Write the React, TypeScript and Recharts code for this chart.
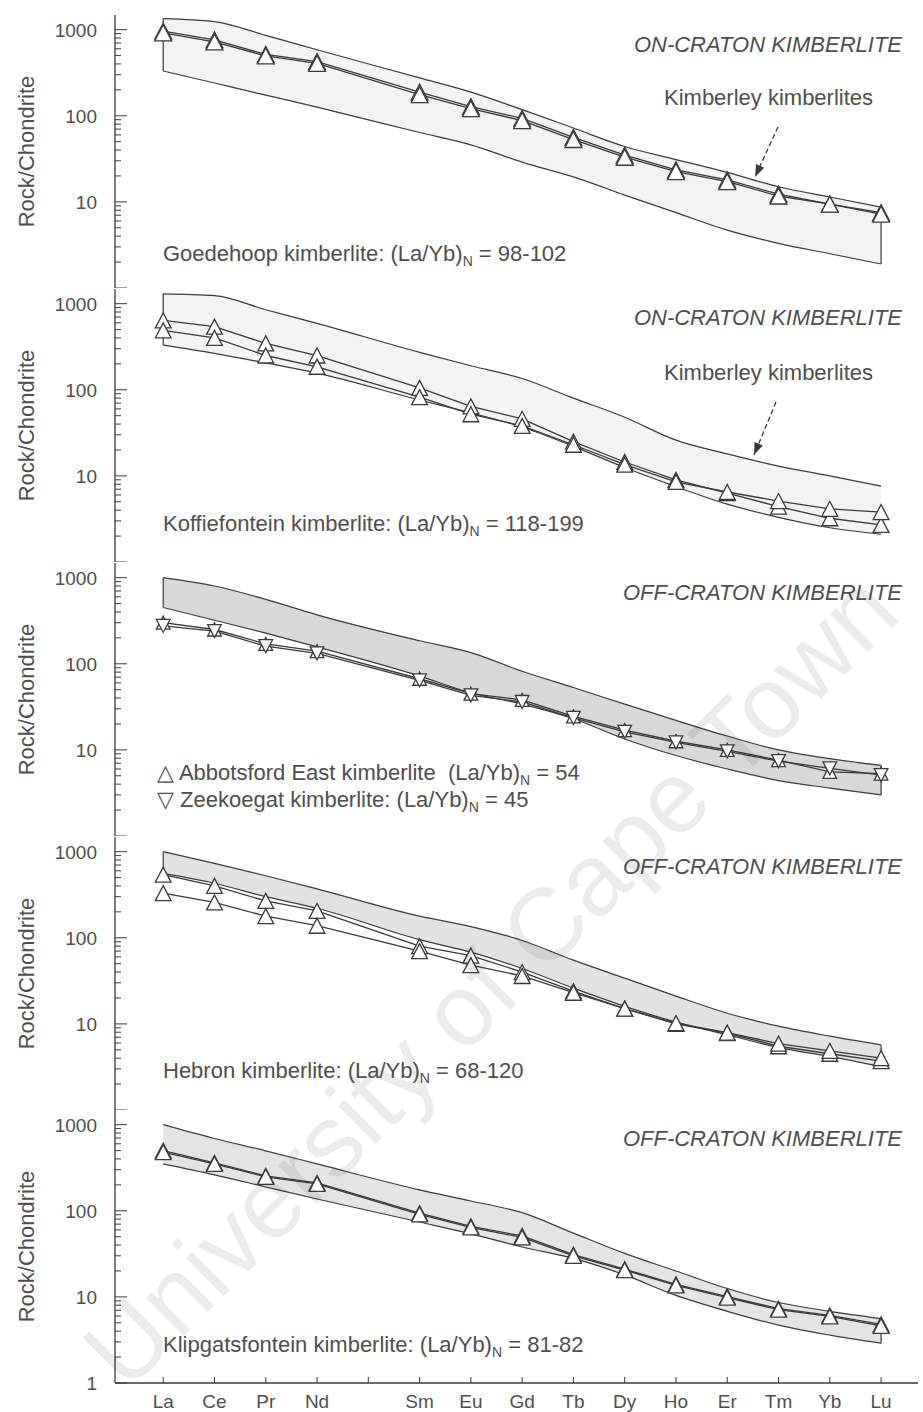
import React from "react";
import { ComposedChart, Area, Line, XAxis, YAxis, ReferenceLine, Label } from "recharts";

// chondrite-normalised REE, Pm slot left empty on the axis
const ELEMENTS = ["La", "Ce", "Pr", "Nd", "Sm", "Eu", "Gd", "Tb", "Dy", "Ho", "Er", "Tm", "Yb", "Lu"];
const ELEMENT_X = [0, 1, 2, 3, 5, 6, 7, 8, 9, 10, 11, 12, 13, 14];
const AXIS_SLOTS = [0, 1, 2, 3, 4, 5, 6, 7, 8, 9, 10, 11, 12, 13, 14];
const LOG_TICKS = [
  1, 2, 3, 4, 5, 6, 7, 8, 9,
  10, 20, 30, 40, 50, 60, 70, 80, 90,
  100, 200, 300, 400, 500, 600, 700, 800, 900,
  1000,
];

// Goedehoop (on-craton) + Kimberley field
const GOED_HI = [1345, 1240, 860, 585, 275, 188, 118, 72, 44, 31, 22, 15, 11.4, 8.7];
const GOED_LO = [331, 240, 174, 126, 64, 46, 29, 19.5, 12, 7.5, 4.7, 3.3, 2.5, 1.9];
const GOED_A = [960, 760, 515, 425, 188, 128, 93, 56, 35, 23.5, 18, 12.3, 9.4, 7.5];
const GOED_B = [920, 720, 495, 405, 176, 121, 88, 53, 33, 22.5, 17.2, 11.7, 9.4, 7.2];

// Koffiefontein (on-craton)
const KOF_HI = [1300, 1240, 850, 590, 272, 190, 135, 80, 48, 26, 18, 13, 10, 7.6];
const KOF_LO = [330, 265, 205, 156, 76, 54, 37, 22, 12.5, 7.5, 4.7, 3.3, 2.5, 2.1];
const KOF_A = [640, 540, 345, 250, 105, 64, 46, 25, 14.5, 9, 6.3, 4.4, 3.22, 2.7];
const KOF_B = [490, 400, 250, 185, 82, 52, 38, 23, 13.5, 8.5, 6.5, 5.1, 4.15, 3.8];

// Abbotsford East / Zeekoegat (off-craton)
const ABB_HI = [1000, 800, 560, 370, 185, 135, 82, 53, 34, 22, 14.5, 10, 7.9, 6.6];
const ABB_LO = [450, 320, 227, 157, 72, 46, 34, 23, 13.4, 8.6, 6.0, 4.4, 3.6, 3.0];
const ABBOTSFORD = [300, 250, 170, 140, 67, 45, 38, 24.5, 17, 12.6, 10, 7.6, 5.55, 5.3];
const ZEEKOEGAT = [275, 240, 160, 132, 64, 43, 36, 23.5, 16.2, 12.2, 9.6, 7.4, 6.1, 5.1];

// Hebron (off-craton)
const HEB_HI = [1000, 730, 525, 370, 178, 135, 93, 55, 34, 21, 13.3, 9.4, 7.2, 5.7];
const HEB_LO = [560, 430, 300, 220, 95, 68, 44, 26, 16, 10.5, 7.5, 5.3, 4.2, 3.2];
const HEB_A = [540, 400, 268, 205, 80, 62, 40, 24, 15, 10, 7.8, 5.5, 4.5, 3.7];
const HEB_B = [330, 258, 178, 138, 70, 48, 36, 23, 15, 10.2, 7.9, 5.9, 4.85, 4.0];

// Klipgatsfontein (off-craton)
const KLIP_HI = [1000, 690, 497, 350, 175, 130, 95, 55, 32, 20, 12.5, 8.6, 6.8, 5.6];
const KLIP_LO = [350, 261, 189, 137, 74, 54, 38, 28, 18, 10.4, 6.8, 4.7, 3.6, 2.9];
const KLIP_A = [500, 360, 254, 211, 94, 66, 51, 31, 21, 14, 10.1, 7.3, 6.1, 4.8];
const KLIP_B = [480, 350, 248, 205, 91, 64, 49, 30, 20.5, 13.6, 9.8, 7.1, 5.93, 4.6];

const W = 923;
const H = 1412;
const PLOT_H = 273;
const INK = "#3a3a3a";
const TEXT = "#4e4e4e";
const FONT = "'Liberation Sans', Arial, Helvetica, sans-serif";

type PanelDef = {
  top: number;
  hi: number[];
  lo: number[];
  a: number[];
  b: number[];
  fill: string;
  tri: number;
  bDown?: boolean;
  closeLa?: boolean;
  closeLu?: boolean;
  topBorder?: boolean;
  bottomLabels?: boolean;
};

const PANELS: PanelDef[] = [
  { top: 15, hi: GOED_HI, lo: GOED_LO, a: GOED_A, b: GOED_B, fill: "#f3f3f3", tri: 16, closeLa: true, closeLu: true, topBorder: true },
  { top: 289, hi: KOF_HI, lo: KOF_LO, a: KOF_A, b: KOF_B, fill: "#f3f3f3", tri: 15, closeLa: true },
  { top: 563, hi: ABB_HI, lo: ABB_LO, a: ABBOTSFORD, b: ZEEKOEGAT, fill: "#d8d8d8", tri: 13, bDown: true, closeLa: true, closeLu: true },
  { top: 837, hi: HEB_HI, lo: HEB_LO, a: HEB_A, b: HEB_B, fill: "#e2e2e2", tri: 15, closeLa: true, closeLu: true },
  { top: 1110, hi: KLIP_HI, lo: KLIP_LO, a: KLIP_A, b: KLIP_B, fill: "#e4e4e4", tri: 15, closeLu: true, bottomLabels: true },
];

function triangle(down: boolean, size: number) {
  return (props: any) => {
    const { cx, cy, index } = props;
    if (cx == null || cy == null) return <g key={`t${index}`} />;
    const w = size * 1.05;
    const h = size;
    const pts = down
      ? `${cx - w / 2},${cy - h / 2} ${cx + w / 2},${cy - h / 2} ${cx},${cy + h / 2}`
      : `${cx - w / 2},${cy + h / 2} ${cx + w / 2},${cy + h / 2} ${cx},${cy - h / 2}`;
    return <polygon key={`t${index}`} points={pts} fill="#fff" stroke={INK} strokeWidth={1.3} />;
  };
}

function LogTick(props: any) {
  const { x, y, payload, showOne } = props;
  const v = payload.value as number;
  const major = Math.abs(Math.log10(v) - Math.round(Math.log10(v))) < 1e-9;
  const label = major && (v > 1 || showOne) ? String(v) : "";
  return (
    <g>
      <line x1={x} x2={x + (major ? 12 : 6)} y1={y} y2={y} stroke={INK} strokeWidth={1} />
      {label && (
        <text x={x - 18} y={y} dy="0.36em" textAnchor="end" fontSize={19} fill={TEXT} fontFamily={FONT}>
          {label}
        </text>
      )}
    </g>
  );
}

function SlotTick(props: any) {
  const { x, y, payload, showLabel } = props;
  const i = ELEMENT_X.indexOf(payload.value);
  return (
    <g>
      <line x1={x} x2={x} y1={y} y2={y - 6} stroke={INK} strokeWidth={1} />
      {showLabel && i >= 0 && (
        <text x={x} y={y + 25} textAnchor="middle" fontSize={19} fill={TEXT} fontFamily={FONT}>
          {ELEMENTS[i]}
        </text>
      )}
    </g>
  );
}

function Panel({ p }: { p: PanelDef }) {
  const rows = ELEMENT_X.map((x, i) => ({ x, band: [p.lo[i], p.hi[i]], a: p.a[i], b: p.b[i] }));
  const xh = p.bottomLabels ? 30 : 0;
  const last = ELEMENT_X.length - 1;
  return (
    <div style={{ position: "absolute", left: 0, top: p.top, width: W, height: PLOT_H + xh }}>
      <ComposedChart width={W} height={PLOT_H + xh} data={rows} margin={{ top: 0, right: 5, bottom: 0, left: 0 }}>
        <XAxis
          type="number"
          dataKey="x"
          domain={[-0.94, 14.72]}
          allowDataOverflow
          ticks={AXIS_SLOTS}
          interval={0}
          height={xh}
          tickSize={0}
          tickMargin={0}
          tickLine={false}
          axisLine={{ stroke: INK, strokeWidth: 1.3 }}
          tick={(props: any) => <SlotTick {...props} showLabel={p.bottomLabels} />}
        />
        {p.topBorder && (
          <XAxis
            xAxisId="top"
            orientation="top"
            type="number"
            dataKey="x"
            domain={[-0.94, 14.72]}
            allowDataOverflow
            height={0}
            tick={false}
            tickLine={false}
            axisLine={{ stroke: INK, strokeWidth: 1.3 }}
          />
        )}
        <YAxis
          type="number"
          scale="log"
          domain={[1, 1480]}
          allowDataOverflow
          ticks={LOG_TICKS}
          interval={0}
          width={115}
          tickSize={0}
          tickMargin={0}
          tickLine={false}
          axisLine={{ stroke: INK, strokeWidth: 1.3 }}
          tick={(props: any) => <LogTick {...props} showOne={p.bottomLabels} />}
        >
          <Label
            value="Rock/Chondrite"
            angle={-90}
            position="insideLeft"
            offset={26}
            style={{ textAnchor: "middle", fontSize: 22, fill: TEXT, fontFamily: FONT }}
          />
        </YAxis>
        <Area
          type="monotone"
          dataKey="band"
          stroke={INK}
          strokeWidth={1.2}
          fill={p.fill}
          fillOpacity={1}
          dot={false}
          activeDot={false}
          isAnimationActive={false}
        />
        {p.closeLa && (
          <ReferenceLine
            segment={[{ x: ELEMENT_X[0], y: p.lo[0] }, { x: ELEMENT_X[0], y: p.hi[0] }]}
            stroke={INK}
            strokeWidth={1.2}
          />
        )}
        {p.closeLu && (
          <ReferenceLine
            segment={[{ x: ELEMENT_X[last], y: p.lo[last] }, { x: ELEMENT_X[last], y: p.hi[last] }]}
            stroke={INK}
            strokeWidth={1.2}
          />
        )}
        <Line
          type="linear"
          dataKey="a"
          stroke={INK}
          strokeWidth={1.3}
          dot={triangle(false, p.tri)}
          activeDot={false}
          isAnimationActive={false}
        />
        <Line
          type="linear"
          dataKey="b"
          stroke={INK}
          strokeWidth={1.3}
          dot={triangle(!!p.bDown, p.tri)}
          activeDot={false}
          isAnimationActive={false}
        />
      </ComposedChart>
    </div>
  );
}

function Ratio({ x, y, name, value }: { x: number; y: number; name: string; value: string }) {
  return (
    <text x={x} y={y} fontSize={22} fill={TEXT} fontFamily={FONT}>
      {name} (La/Yb)
      <tspan dy={5} fontSize={14}>N</tspan>
      <tspan dy={-5}> = {value}</tspan>
    </text>
  );
}

function Title({ y, text }: { y: number; text: string }) {
  return (
    <text x={902} y={y} textAnchor="end" fontSize={22} fontStyle="italic" fill={TEXT} fontFamily={FONT}>
      {text}
    </text>
  );
}

function Arrow({ x1, y1, x2, y2 }: { x1: number; y1: number; x2: number; y2: number }) {
  const ang = Math.atan2(y2 - y1, x2 - x1);
  const L = 13;
  const s = 0.35;
  const p1 = `${x2 - L * Math.cos(ang - s)},${y2 - L * Math.sin(ang - s)}`;
  const p2 = `${x2 - L * Math.cos(ang + s)},${y2 - L * Math.sin(ang + s)}`;
  return (
    <g>
      <line x1={x1} y1={y1} x2={x2} y2={y2} stroke={INK} strokeWidth={1.3} strokeDasharray="5 3" />
      <polygon points={`${x2},${y2} ${p1} ${p2}`} fill={INK} />
    </g>
  );
}

export default function App() {
  return (
    <div style={{ position: "absolute", left: 0, top: 0, width: W, height: H, background: "#fff", overflow: "hidden" }}>
      {PANELS.map((p, i) => (
        <Panel key={i} p={p} />
      ))}
      <svg width={W} height={H} style={{ position: "absolute", left: 0, top: 0, pointerEvents: "none" }}>
        <text
          x={515}
          y={1005}
          textAnchor="middle"
          fontSize={102}
          fill="#000"
          fillOpacity={0.08}
          fontFamily={FONT}
          transform="rotate(-45 515 1005)"
        >
          University of Cape Town
        </text>

        <Title y={52} text="ON-CRATON KIMBERLITE" />
        <text x={664} y={105} fontSize={22} fill={TEXT} fontFamily={FONT}>Kimberley kimberlites</text>
        <Arrow x1={778} y1={127} x2={755} y2={177} />
        <Ratio x={163} y={261} name="Goedehoop kimberlite:" value="98-102" />

        <Title y={325} text="ON-CRATON KIMBERLITE" />
        <text x={664} y={380} fontSize={22} fill={TEXT} fontFamily={FONT}>Kimberley kimberlites</text>
        <Arrow x1={776} y1={402} x2={754} y2={455} />
        <Ratio x={163} y={531} name="Koffiefontein kimberlite:" value="118-199" />

        <Title y={600} text="OFF-CRATON KIMBERLITE" />
        <Ratio x={157} y={780} name={"\u25B3 Abbotsford East kimberlite\u00A0"} value="54" />
        <Ratio x={157} y={807} name={"\u25BD Zeekoegat kimberlite:"} value="45" />

        <Title y={874} text="OFF-CRATON KIMBERLITE" />
        <Ratio x={163} y={1078} name="Hebron kimberlite:" value="68-120" />

        <Title y={1146} text="OFF-CRATON KIMBERLITE" />
        <Ratio x={163} y={1352} name="Klipgatsfontein kimberlite:" value="81-82" />
      </svg>
    </div>
  );
}
